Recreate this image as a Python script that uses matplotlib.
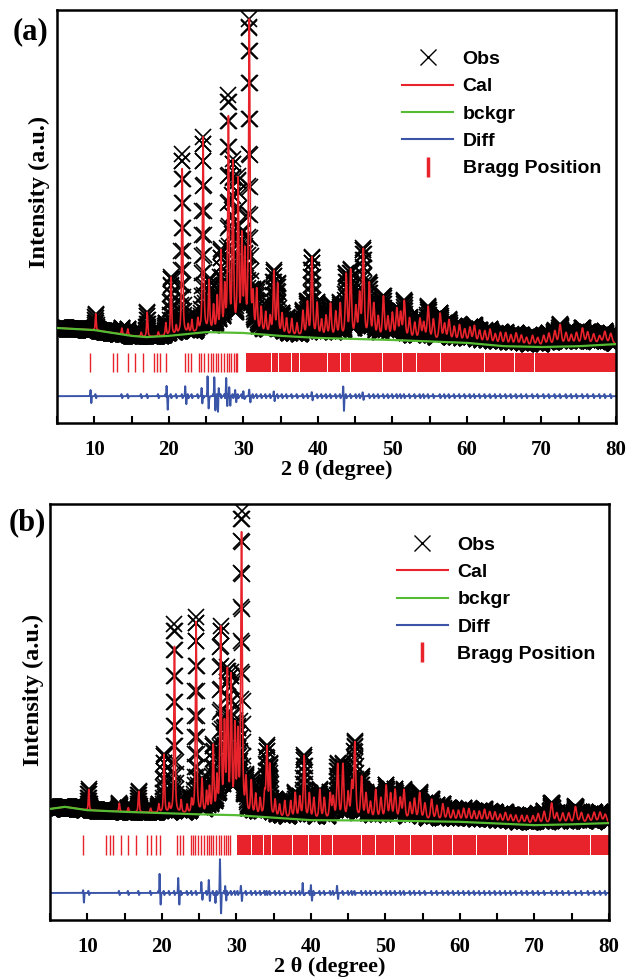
import numpy as np
import matplotlib.pyplot as plt
from matplotlib.lines import Line2D

# ---------------- panel (a) : values ----------------
bg_a_x = [5, 10, 15, 17, 20, 25, 30, 35, 40, 50, 60, 65, 70, 75, 80]
bg_a_y = [23.0, 22.5, 21.1, 20.8, 21.1, 22.0, 21.8, 21.1, 20.6, 20.1, 19.4, 18.6, 18.4, 18.6, 19.1]

peak_a_pos = [10.2, 13.7, 14.5, 16.3, 17.1, 18.6, 19.6, 20.3, 21.0, 21.8, 22.6, 23.1, 23.9,
              24.6, 25.4, 26.0, 26.5, 27.0, 27.5, 28.0, 28.6, 29.3, 29.8, 30.2, 30.8, 31.3,
              31.8, 32.4, 33.0, 33.6, 34.1, 34.6, 35.2, 35.8, 36.5, 37.2, 38.0, 38.6, 39.2,
              39.9, 40.5, 41.1, 41.7, 42.4, 43.0, 43.8, 44.4, 45.1, 45.6, 46.1, 46.9, 47.5,
              48.1, 48.8, 49.4, 50.0, 50.6, 51.1, 51.6, 52.3, 53.0, 53.7, 54.2, 54.8, 55.5,
              56.4, 57.0, 57.6, 58.3, 59.0, 59.7, 60.4, 61.0, 61.7, 62.4, 63.1, 63.8, 64.5,
              65.2, 65.9, 66.6, 67.3, 68.0, 68.8, 69.5, 70.3, 71.0, 71.8, 72.5, 73.3, 74.0,
              74.7, 75.5, 76.2, 77.0, 77.8, 78.5, 79.3]
peak_a_h = [4, 1.5, 1.5, 1, 6, 1, 3, 14, 2, 40, 2, 3, 3,
            47, 12, 6, 8, 19, 10, 51, 40, 36, 22, 18, 75, 8,
            10, 6, 5, 4, 15, 12, 5, 4, 4, 3, 6, 8, 19,
            8, 4, 5, 8, 6, 8, 15, 16, 7, 10, 21, 13, 8,
            5, 10, 5, 6, 7, 6, 9, 5, 4, 5, 4, 8, 5,
            6.5, 4, 5, 3.5, 4, 3, 3.5, 4, 3, 3, 3.5, 2.5, 3,
            3, 2.5, 3, 2.5, 2, 2.5, 2, 2.5, 3, 3.5, 5, 3, 2.5,
            3, 4, 3, 2.5, 2, 3, 2.5]
obs_a_extra_pos = [21.8, 28.0]
obs_a_extra_h = [3.5, 5.0]

diff_a_pos = [9.5, 9.6, 19.7, 19.85, 22.2, 22.35, 24.4, 24.5, 25.2, 25.35, 26.1, 26.25,
              26.6, 26.7, 27.7, 27.85, 28.1, 28.25, 28.9, 29.05, 30.0, 30.15, 30.8, 30.95,
              34.1, 34.2, 39.2, 39.3, 43.4, 43.5, 46.0, 46.1]
diff_a_amp = [1.5, -1.7, 2.7, -3.4, 2.4, -2.0, 2.0, -2.0, 4.8, -3.6, 4.8, -3.6,
              -3.6, 2.0, 4.4, -2.5, 2.4, -2.4, 1.5, -1.5, 1.2, -1.2, 1.5, -1.5,
              1.0, -1.0, 0.8, -0.8, 2.4, -3.6, 0.7, -0.7]

bragg_a_lines = [9.4, 12.5, 13.1, 14.5, 15.5, 16.5, 18.0, 18.4, 18.8, 19.6, 22.2, 22.6, 23.0,
                 24.0, 24.3, 24.7, 25.3, 25.6, 25.9, 26.3, 26.6, 27.0, 27.4, 27.8, 28.1, 28.4,
                 28.7, 29.0, 29.2]
bragg_a_bands = [(30.4, 1.1), (31.6, 0.6), (32.3, 1.4), (33.8, 0.9), (34.8, 1.6), (36.5, 1.0),
                 (37.6, 2.1), (39.8, 1.4), (41.3, 1.7), (43.1, 1.2), (44.4, 2.4), (46.9, 1.7),
                 (48.7, 2.6), (51.4, 1.8), (53.3, 3.1), (56.5, 2.4), (59.0, 3.3), (62.4, 3.9),
                 (66.4, 2.6), (69.1, 4.4), (73.6, 3.8), (77.5, 2.5)]

# ---------------- panel (b) ----------------
bg_b_x = [5, 7, 10, 15, 20, 25, 30, 35, 40, 50, 60, 70, 75, 80]
bg_b_y = [26.7, 27.2, 26.4, 26.0, 25.7, 25.4, 25.2, 24.6, 24.0, 23.9, 23.6, 22.8, 23.0, 23.3]

peak_b_pos = [10.2, 14.3, 15.5, 16.9, 18.5, 19.6, 20.3, 21.0, 21.7, 22.6, 23.4, 24.0, 24.6,
              25.4, 26.0, 26.4, 26.9, 27.4, 27.9, 28.4, 28.8, 29.3, 29.8, 30.2, 30.7, 31.3,
              32.0, 32.6, 33.2, 33.8, 34.1, 34.5, 35.2, 35.8, 36.5, 37.3, 37.9, 38.5, 39.1,
              39.8, 40.4, 41.2, 41.8, 42.6, 43.0, 43.6, 44.3, 45.0, 45.5, 45.9, 46.8, 47.4,
              48.0, 48.7, 49.4, 50.1, 50.7, 51.3, 52.0, 52.5, 53.3, 53.9, 54.6, 55.3, 56.2,
              56.9, 57.7, 58.4, 59.1, 59.8, 60.5, 61.2, 61.9, 62.6, 63.3, 64.0, 64.7, 65.4,
              66.1, 66.8, 67.5, 68.3, 69.0, 69.8, 70.5, 71.3, 72.3, 73.0, 73.8, 74.6, 75.5,
              76.3, 77.2, 78.0, 78.8, 79.5]
peak_b_h = [5, 2, 1, 5, 1, 2, 14, 2, 40, 3, 2, 3, 46,
            8, 5, 6, 16, 8, 44, 20, 33, 32, 20, 18, 67, 8,
            8, 5, 4, 5, 16, 12, 4, 3, 4, 4, 6, 5, 15,
            6, 5, 7, 5, 6, 5, 13, 13, 6, 8, 18, 10, 6,
            4, 7, 5, 8, 6, 7, 5, 7, 4, 5, 6.5, 4, 5,
            3.5, 4, 3, 2.5, 2.5, 3, 3, 2.5, 2.5, 3, 2.5, 2.5, 2,
            2.5, 2, 2, 2, 2, 2, 2.5, 3, 5, 2.5, 2.5, 2.5, 4,
            2.5, 2, 2.5, 2.5, 2]
obs_b_extra_pos = [21.7, 24.6, 30.7]
obs_b_extra_h = [5.5, 1.2, 5.0]

diff_b_pos = [9.45, 9.55, 19.7, 19.85, 22.2, 22.35, 25.3, 25.45, 26.3, 26.45, 27.2,
              27.8, 27.95, 28.5, 28.65, 30.6, 30.75, 38.9, 39.05, 40.0, 40.15, 43.5, 43.65]
diff_b_amp = [0.7, -2.4, 4.8, -2.9, 3.6, -2.9, 2.4, -1.2, 2.9, -1.5, -2.4,
              7.9, -4.6, 1.9, -1.9, 1.5, -1.5, 2.4, -1.0, 1.9, -1.9, 1.5, -1.0]

bragg_b_lines = [9.47, 12.5, 13.05, 13.4, 14.5, 15.5, 16.5, 18.0, 18.5, 19.2, 19.7, 22.1, 22.4, 22.9,
                 23.9, 24.2, 24.5, 24.9, 25.3, 25.6, 26.0, 26.3, 26.6, 26.9, 27.3, 27.7, 28.0,
                 28.3, 28.6, 28.9, 29.1]
bragg_b_bands = [(30.1, 1.0), (31.2, 0.8), (32.1, 1.5), (33.7, 1.0), (34.8, 1.4), (36.3, 1.2),
                 (37.6, 2.0), (39.7, 1.5), (41.3, 1.6), (43.0, 1.4), (44.5, 2.2), (46.8, 1.8),
                 (48.7, 2.5), (51.3, 2.0), (53.4, 2.9), (56.4, 2.6), (59.1, 3.1), (62.3, 4.0),
                 (66.4, 2.7), (69.2, 4.3), (73.6, 3.9), (77.6, 2.4)]

RED = '#e8232b'
GREEN = '#55bb33'
BLUE = '#3a55a8'
serif = ['Liberation Serif', 'DejaVu Serif']
sans = ['Liberation Sans', 'DejaVu Sans']

tt = np.arange(5, 80.001, 0.02)


def pv(x, pos, h):
    # pseudo-Voigt peak, width growing with angle
    w = 0.12 + 0.004 * (pos - 5)
    lor = 1 / (1 + ((x - pos) / (w / 2)) ** 2)
    gau = np.exp(-4 * np.log(2) * ((x - pos) / w) ** 2)
    return h * (0.6 * lor + 0.4 * gau)


def draw(ax, bgx, bgy, ppos, ph, xpos, xh, dpos, damp, blines, bbands, bragg_y, diff0, lab_xy):
    bg = np.interp(tt, bgx, bgy)
    cal = bg.copy()
    for p, h in zip(ppos, ph):
        cal += pv(tt, p, h)
    obs = cal.copy()
    for p, h in zip(xpos, xh):
        obs += pv(tt, p, h)
    diff = np.full_like(tt, diff0)
    for p, a in zip(dpos, damp):
        diff += a * np.exp(-0.5 * ((tt - p) / 0.035) ** 2)
    # small misfit wiggle at every reflection
    for p in ppos:
        u = (tt - p) / 0.05
        diff += -0.5 * u * np.exp(0.5 - 0.5 * u ** 2)

    ax.plot(tt, obs, ls='none', marker='x', ms=12, mew=1.2, color='k', zorder=1)
    ax.plot(tt, cal, color=RED, lw=1.2, zorder=2)
    ax.plot(bgx, bgy, color=GREEN, lw=1.6, zorder=3)
    ax.vlines(blines, bragg_y[0], bragg_y[1], color=RED, lw=1.0, zorder=2)
    ax.broken_barh(bbands, (bragg_y[0], bragg_y[1] - bragg_y[0]), color=RED, lw=0, zorder=2)
    ax.plot(tt, diff, color=BLUE, lw=1.4, zorder=2)

    ax.set_xlim(5, 80)
    ax.set_ylim(0, 100)
    ax.set_yticks([])
    ax.set_xticks(range(10, 81, 10))
    ax.set_xticks(range(5, 81, 5), minor=True)
    ax.tick_params(axis='x', which='both', direction='in', length=5, width=1.5,
                   top=False, pad=12)
    for lab in ax.get_xticklabels():
        lab.set_fontfamily(serif)
        lab.set_fontweight('bold')
        lab.set_fontsize(15)
    for s in ax.spines.values():
        s.set_linewidth(1.8)
    ax.set_xlabel('2 θ (degree)', family=serif, fontweight='bold', fontsize=16, labelpad=0)
    ax.set_ylabel('Intensity (a.u.)', family=serif, fontweight='bold', fontsize=17.5)
    ax.yaxis.set_label_coords(*lab_xy)

    handles = [Line2D([], [], ls='none', marker='x', ms=12, mew=1.0, color='k'),
               Line2D([], [], color=RED, lw=1.5),
               Line2D([], [], color=GREEN, lw=1.5),
               Line2D([], [], color=BLUE, lw=1.5),
               Line2D([], [], ls='none', marker='|', ms=14, mew=2.5, color=RED)]
    return handles


fig = plt.figure(figsize=(6.3, 9.8), dpi=100)
ax_a = fig.add_axes([57 / 630, 1 - 423 / 980, 559 / 630, 413 / 980])
ax_b = fig.add_axes([50 / 630, 1 - 920 / 980, 559 / 630, 416 / 980])

labels = ['Obs', 'Cal', 'bckgr', 'Diff', 'Bragg Position']
h_a = draw(ax_a, bg_a_x, bg_a_y, peak_a_pos, peak_a_h, obs_a_extra_pos, obs_a_extra_h,
           diff_a_pos, diff_a_amp, bragg_a_lines, bragg_a_bands, (12.3, 16.9), 6.5,
           (-0.013, 0.559))
h_b = draw(ax_b, bg_b_x, bg_b_y, peak_b_pos, peak_b_h, obs_b_extra_pos, obs_b_extra_h,
           diff_b_pos, diff_b_amp, bragg_b_lines, bragg_b_bands, (15.6, 20.4), 6.5,
           (-0.010, 0.553))

leg_kw = dict(loc='upper left', frameon=False, borderpad=0, borderaxespad=0,
              handlelength=2.6, handletextpad=0.5, labelspacing=0.5,
              prop={'family': sans, 'weight': 'bold', 'size': 14})
ax_a.legend(h_a, labels, bbox_to_anchor=(0.618, 0.902), **leg_kw)
ax_b.legend(h_b, labels, bbox_to_anchor=(0.621, 0.923), **leg_kw)

fig.text(31 / 630, 1 - 32 / 980, '(a)', family=serif, fontweight='bold', fontsize=22,
         ha='center', va='center')
fig.text(27 / 630, 1 - 523 / 980, '(b)', family=serif, fontweight='bold', fontsize=22,
         ha='center', va='center')

fig.savefig('out.png', dpi=100)
